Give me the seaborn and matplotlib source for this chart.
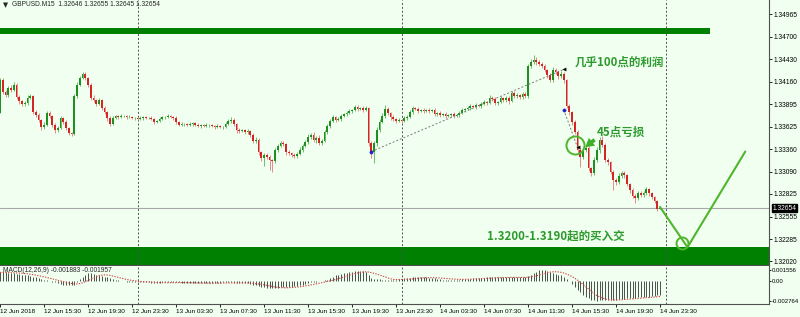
import numpy as np
import pandas as pd
import matplotlib
matplotlib.use("Agg")
import matplotlib.pyplot as plt
import matplotlib.transforms as mtransforms
from matplotlib.patches import Rectangle
import seaborn as sns

# ---------------- data ----------------
header_symbol = "GBPUSD.M15  1.32646 1.32655 1.32645 1.32654"
macd_header = "MACD(12,26,9) -0.001883 -0.001957"
first_bar_time = "2018-06-12 11:30"
first_open = 1.33790

closes = [
    1.34183, 1.34040, 1.34005, 1.34088, 1.34064, 1.34124, 1.33981, 1.33933, 1.33897, 1.33909,
    1.33969, 1.33993, 1.33802, 1.33766, 1.33707, 1.33623, 1.33647, 1.33790, 1.33754, 1.33647,
    1.33587, 1.33611, 1.33730, 1.33683, 1.33611, 1.33552, 1.33540, 1.33993, 1.34124, 1.34207,
    1.34255, 1.34207, 1.34124, 1.33969, 1.33945, 1.33897, 1.33945, 1.33850, 1.33802, 1.33730,
    1.33659, 1.33730, 1.33754, 1.33742, 1.33754, 1.33754, 1.33742, 1.33742, 1.33730, 1.33730,
    1.33719, 1.33730, 1.33742, 1.33730, 1.33730, 1.33719, 1.33683, 1.33695, 1.33719, 1.33742,
    1.33742, 1.33754, 1.33742, 1.33730, 1.33683, 1.33647, 1.33659, 1.33659, 1.33647, 1.33659,
    1.33671, 1.33647, 1.33635, 1.33647, 1.33635, 1.33647, 1.33647, 1.33635, 1.33623, 1.33635,
    1.33623, 1.33623, 1.33659, 1.33695, 1.33707, 1.33659, 1.33587, 1.33576, 1.33587, 1.33564,
    1.33576, 1.33528, 1.33456, 1.33468, 1.33325, 1.33254, 1.33289, 1.33266, 1.33230, 1.33218,
    1.33349, 1.33397, 1.33432, 1.33421, 1.33325, 1.33313, 1.33289, 1.33278, 1.33301, 1.33349,
    1.33397, 1.33444, 1.33504, 1.33528, 1.33468, 1.33492, 1.33432, 1.33456, 1.33564, 1.33635,
    1.33695, 1.33742, 1.33707, 1.33719, 1.33754, 1.33778, 1.33790, 1.33814, 1.33826, 1.33862,
    1.33838, 1.33850, 1.33826, 1.33850, 1.33432, 1.33325, 1.33432, 1.33587, 1.33683, 1.33754,
    1.33838, 1.33790, 1.33742, 1.33719, 1.33695, 1.33707, 1.33695, 1.33730, 1.33742, 1.33802,
    1.33850, 1.33838, 1.33814, 1.33826, 1.33814, 1.33826, 1.33814, 1.33826, 1.33778, 1.33790,
    1.33766, 1.33778, 1.33754, 1.33766, 1.33778, 1.33754, 1.33766, 1.33790, 1.33826, 1.33838,
    1.33850, 1.33874, 1.33862, 1.33885, 1.33874, 1.33897, 1.33921, 1.33909, 1.33969, 1.33957,
    1.33909, 1.33921, 1.33969, 1.33945, 1.33969, 1.33933, 1.34028, 1.33993, 1.34005, 1.33981,
    1.34017, 1.33993, 1.34350, 1.34398, 1.34422, 1.34398, 1.34374, 1.34350, 1.34303, 1.34243,
    1.34183, 1.34303, 1.34279, 1.34231, 1.34255, 1.34183, 1.33874, 1.33802, 1.33683, 1.33564,
    1.33349, 1.33266, 1.33349, 1.33373, 1.33134, 1.33075, 1.33230, 1.33349, 1.33468, 1.33409,
    1.33230, 1.33206, 1.33087, 1.32991, 1.32968, 1.33039, 1.33075, 1.33051, 1.32944, 1.32872,
    1.32801, 1.32777, 1.32836, 1.32813, 1.32836, 1.32884, 1.32836, 1.32789, 1.32741, 1.32646,
    1.32654,
]

upper_wick_pips = [
    2, 3, 2, 2, 3, 4, 2, 2, 1, 2,
    3, 2, 1, 2, 2, 1, 3, 2, 2, 1,
    2, 2, 3, 1, 2, 1, 1, 2, 3, 2,
    2, 2, 1, 2, 3, 1, 2, 1, 2, 1,
    2, 2, 1, 1, 2, 1, 1, 2, 1, 1,
    1, 2, 1, 1, 1, 2, 1, 1, 2, 1,
    1, 2, 1, 1, 2, 1, 2, 1, 1, 2,
    1, 1, 2, 1, 1, 2, 1, 1, 1, 2,
    1, 1, 2, 2, 3, 2, 1, 2, 1, 1,
    2, 1, 2, 3, 2, 1, 3, 2, 2, 1,
    2, 2, 3, 2, 1, 2, 1, 2, 2, 3,
    2, 2, 3, 2, 3, 2, 3, 2, 2, 2,
    2, 3, 1, 2, 2, 1, 2, 2, 1, 2,
    2, 1, 2, 2, 1, 2, 3, 4, 3, 3,
    5, 2, 1, 2, 1, 2, 1, 2, 2, 2,
    2, 1, 2, 1, 2, 1, 2, 1, 2, 1,
    2, 1, 2, 1, 1, 2, 1, 2, 2, 1,
    2, 2, 1, 2, 1, 2, 2, 1, 3, 2,
    2, 1, 2, 1, 2, 2, 3, 2, 2, 1,
    2, 2, 3, 4, 6, 3, 2, 2, 2, 1,
    2, 3, 2, 2, 3, 2, 1, 2, 1, 2,
    2, 2, 3, 2, 2, 1, 3, 3, 4, 5,
    2, 2, 1, 2, 2, 3, 2, 2, 1, 1,
    2, 2, 3, 2, 2, 2, 1, 1, 1, 1,
    1,
]

lower_wick_pips = [
    0, 2, 3, 2, 2, 1, 2, 3, 2, 2,
    2, 1, 2, 2, 3, 3, 2, 1, 2, 2,
    3, 2, 1, 2, 2, 3, 2, 1, 2, 1,
    1, 2, 2, 3, 2, 2, 1, 2, 2, 3,
    2, 1, 1, 2, 1, 1, 2, 1, 1, 2,
    1, 1, 2, 1, 1, 1, 2, 1, 1, 1,
    2, 1, 1, 2, 2, 1, 1, 2, 1, 1,
    2, 1, 1, 2, 1, 1, 2, 1, 2, 1,
    1, 2, 1, 1, 2, 2, 3, 2, 1, 2,
    2, 3, 2, 2, 3, 4, 10, 3, 12, 13,
    2, 2, 1, 2, 3, 2, 2, 3, 2, 1,
    2, 1, 2, 2, 2, 3, 2, 2, 1, 2,
    2, 1, 2, 1, 2, 1, 2, 1, 2, 1,
    2, 1, 2, 1, 3, 7, 13, 3, 2, 1,
    2, 2, 3, 2, 2, 1, 2, 1, 2, 1,
    2, 1, 2, 1, 2, 1, 2, 1, 2, 2,
    2, 1, 2, 1, 2, 2, 1, 2, 1, 2,
    1, 2, 1, 2, 1, 2, 1, 2, 1, 2,
    2, 2, 1, 2, 2, 3, 1, 2, 2, 2,
    2, 2, 2, 2, 2, 3, 2, 2, 2, 3,
    2, 2, 2, 3, 2, 3, 3, 3, 4, 3,
    4, 12, 3, 2, 4, 4, 3, 2, 3, 2,
    3, 4, 3, 12, 4, 3, 2, 3, 3, 4,
    3, 6, 3, 2, 2, 2, 3, 3, 2, 2,
    0,
]

# MACD main values, in units of 0.0001
macd_main = [
    12, 12, 12, 11, 11, 11,
    10, 10, 9, 9, 8, 7,
    6, 5, 4, 3, 2, 1, 0,
    -1, -2, -3, -4, -5, -5, -6, -6, -5, -1,
    3, 6, 9, 11, 11, 10, 9, 8,
    7, 6, 5, 4, 3,
    2, 1, 0, 0, -1, -1, -1, -1, -1, -2,
    -2, -2, -2, -3, -3, -3, -3, -2, -2, -2,
    -2, -2, -2, -2, -3, -3, -3, -3, -3, -3,
    -3, -3, -3, -3, -3, -3, -3, -3, -3, -2,
    -2, -2, -2, -3, -3, -3, -3, -3, -3,
    -4, -5, -6, -7,
    -8, -9, -10, -10, -10, -10, -10, -9, -9, -9, -8, -8, -7, -7, -6, -5,
    -4, -3, -2, -1, -1, 0, 0, 1,
    2, 4, 6, 8, 9, 10, 11, 11, 12,
    13, 14, 14, 14, 14, 13,
    8, 4, 3, 3,
    3, 2, 2, 2, 1, 1, 1,
    3, 3, 4, 4, 4, 5, 5, 5, 5, 5, 5, 4, 4, 4, 3, 3,
    2, 2, 2, 2, 2, 2, 2, 3, 3, 3,
    3, 4, 4, 4, 4, 4, 5, 5, 5, 5, 5, 5, 5, 5, 5, 5, 5, 5, 5, 5, 5,
    7, 9, 11, 13, 15, 15.5, 15, 14,
    12, 11, 10, 9, 8, 6, 3, 0,
    -4, -8, -12, -16, -19, -22,
    -24, -26, -27, -27.6, -27,
    -27, -27, -26, -26, -26, -26, -25, -25, -25, -24, -24,
    -24, -24, -23, -23, -23, -22, -22, -21, -21, -20, -19,
]

price_ticks = [1.34965, 1.34700, 1.34430, 1.34160, 1.33895, 1.33625,
               1.33360, 1.33090, 1.32825, 1.32555, 1.32285, 1.32020]
current_price = 1.32654
macd_ticks = [0.001556, 0.0, -0.002764]
macd_tick_labels = ["0.001556", "0.00", "-0.002764"]

time_tick_labels = ["12 Jun 2018", "12 Jun 15:30", "12 Jun 19:30", "12 Jun 23:30",
                    "13 Jun 03:30", "13 Jun 07:30", "13 Jun 11:30", "13 Jun 15:30",
                    "13 Jun 19:30", "13 Jun 23:30", "14 Jun 03:30", "14 Jun 07:30",
                    "14 Jun 11:30", "14 Jun 15:30", "14 Jun 19:30", "14 Jun 23:30"]
time_tick_times = ["2018-06-12 11:30", "2018-06-12 15:30", "2018-06-12 19:30", "2018-06-12 23:30",
                   "2018-06-13 03:30", "2018-06-13 07:30", "2018-06-13 11:30", "2018-06-13 15:30",
                   "2018-06-13 19:30", "2018-06-13 23:30", "2018-06-14 03:30", "2018-06-14 07:30",
                   "2018-06-14 11:30", "2018-06-14 15:30", "2018-06-14 19:30", "2018-06-14 23:30"]
day_separators = ["2018-06-13 00:00", "2018-06-14 00:00", "2018-06-15 00:00"]

resistance_zone = (1.34732, 1.34803)
resistance_end = "2018-06-15 04:00"
support_zone = (1.31900, 1.32193)

trade_entry_times = ["2018-06-13 21:15", "2018-06-14 14:45"]
trade_entry_prices = [1.3333, 1.3383]
trade_exit_times = ["2018-06-14 14:45", "2018-06-14 16:00"]
trade_exit_prices = [1.3431, 1.3338]

path_times = ["2018-06-14 23:30", "2018-06-15 02:00", "2018-06-15 07:15"]
path_prices = [1.3267, 1.3219, 1.3333]

circle_times = ["2018-06-14 15:45", "2018-06-15 01:30"]
circle_prices = [1.3341, 1.3224]
circle_sizes = [13, 8.6]

note_texts = ["几乎100点的利润", "45点亏损", "1.3200-1.3190起的买入交"]
note_times = ["2018-06-14 15:45", "2018-06-14 17:45", "2018-06-14 07:45"]
note_prices = [1.34398, 1.33558, 1.32324]

arrow_tail = ("2018-06-14 17:45", 1.33492)
arrow_head = ("2018-06-14 16:30", 1.33361)

# ---------------- helpers ----------------
t0 = pd.Timestamp(first_bar_time)
step = pd.Timedelta("15min")


def bar_index(t):
    return (pd.Timestamp(t) - t0) / step


n = len(closes)
idx = np.arange(n)
close_arr = np.array(closes)
open_arr = np.concatenate([[first_open], close_arr[:-1]])
open_arr[-1] = 1.32646
high_arr = np.maximum(open_arr, close_arr) + np.array(upper_wick_pips) * 1e-4
low_arr = np.minimum(open_arr, close_arr) - np.array(lower_wick_pips) * 1e-4
bull = close_arr >= open_arr

candles = pd.DataFrame({"idx": idx, "open": open_arr, "close": close_arr,
                        "high": high_arr, "low": low_arr, "bull": bull})
macd_df = pd.DataFrame({"idx": idx, "macd": np.array(macd_main) * 1e-4})
macd_df["signal"] = macd_df["macd"].rolling(9, min_periods=1).mean()

# ---------------- style ----------------
sns.set_theme(style="white")
plt.rcParams["font.family"] = ["Noto Sans CJK SC", "DejaVu Sans"]
BG = "#F0FFF0"
GREEN_BODY = "#1f8f1f"
RED_BODY = "#d42424"
GREEN_WICK = "#6cbf6c"
RED_WICK = "#e68a8a"
ZONE = "#008000"
NOTE = "#2e9a2e"
LINE = "#4fb52c"
SMALL_FONT = "Liberation Sans"
SMALL = 4.8

fig = plt.figure(figsize=(8.0, 3.17), dpi=100, facecolor=BG)
W, H = 800.0, 317.0
ax = fig.add_axes([0, 1 - 265 / H, 769 / W, 265 / H], facecolor=BG)
axm = fig.add_axes([0, 1 - 304 / H, 769 / W, 38 / H], facecolor=BG)

xmax = 769 / 2.75
for a in (ax, axm):
    a.set_xlim(0, xmax)
ax.set_ylim(1.31978, 1.35137)
axm.set_ylim(-0.00322, 0.0021)

# zones
ax.add_patch(Rectangle((-2, resistance_zone[0]), bar_index(resistance_end) + 2,
                       resistance_zone[1] - resistance_zone[0], color=ZONE, lw=0, zorder=1))
ax.axhspan(support_zone[0], support_zone[1], color=ZONE, lw=0, zorder=1)

# current price line
ax.axhline(current_price, color="#a8a8a8", lw=0.8, zorder=1.5)

# day separators
for t in day_separators:
    for a in (ax, axm):
        a.axvline(bar_index(t), color="#505050", lw=0.7, ls=(0, (2, 2)), zorder=1.6)

# candles: wicks then bodies
wick_colors = np.where(candles["bull"], GREEN_WICK, RED_WICK)
ax.vlines(candles["idx"], candles["low"], candles["high"], colors=wick_colors, lw=0.7, zorder=2)
body_h = (candles["close"] - candles["open"]).to_numpy()
body_h = np.where(np.abs(body_h) < 4e-5, np.where(body_h >= 0, 4e-5, -4e-5), body_h)
body_colors = np.where(candles["bull"], GREEN_BODY, RED_BODY)
ax.bar(candles["idx"], body_h, bottom=candles["open"], width=0.72,
       color=body_colors, lw=0, zorder=3)

# trade history dotted lines & markers
for et, ep, xt, xp in zip(trade_entry_times, trade_entry_prices, trade_exit_times, trade_exit_prices):
    ax.plot([bar_index(et), bar_index(xt)], [ep, xp], color="#7a7a7a", lw=0.7,
            ls=(0, (2, 2)), zorder=3.5)
entry_df = pd.DataFrame({"x": [bar_index(t) for t in trade_entry_times], "y": trade_entry_prices})
exit_df = pd.DataFrame({"x": [bar_index(t) for t in trade_exit_times], "y": trade_exit_prices})
sns.scatterplot(data=entry_df, x="x", y="y", ax=ax, marker="o", s=6, color="#2020d0",
                edgecolor="#2020d0", zorder=4, legend=False)
sns.scatterplot(data=exit_df, x="x", y="y", ax=ax, marker="<", s=6, color="#000000",
                edgecolor="#000000", zorder=4, legend=False)

# projected path
path_df = pd.DataFrame({"x": [bar_index(t) for t in path_times], "y": path_prices})
sns.lineplot(data=path_df, x="x", y="y", ax=ax, color=LINE, lw=1.5, sort=False,
             estimator=None, zorder=5)

# circles
for t, p, s in zip(circle_times, circle_prices, circle_sizes):
    ax.plot([bar_index(t)], [p], marker="o", ms=s, mfc="none", mec=LINE, mew=1.4, zorder=5)

# arrow
ax.annotate("", xy=(bar_index(arrow_head[0]), arrow_head[1]),
            xytext=(bar_index(arrow_tail[0]), arrow_tail[1]),
            arrowprops=dict(arrowstyle="simple,head_length=0.7,head_width=0.8,tail_width=0.3",
                            color="#3fae2a", lw=0, mutation_scale=9), zorder=6)

# notes
for txt, t, p in zip(note_texts, note_times, note_prices):
    ax.text(bar_index(t), p, txt, color=NOTE, fontsize=8.3, fontweight="bold",
            ha="left", va="center", zorder=7)

# axes styling - main
ax.set_xticks([])
ax.yaxis.tick_right()
ax.set_yticks(price_ticks)
ax.set_yticklabels([f"{v:.5f}" for v in price_ticks], family=SMALL_FONT)
ax.tick_params(axis="y", labelsize=SMALL, length=2.2, width=0.6, pad=1.0, colors="#000000",
               direction="out")
for s in ("left", "top"):
    ax.spines[s].set_visible(False)
for s in ("right", "bottom"):
    ax.spines[s].set_color("#505050")
    ax.spines[s].set_linewidth(0.8)
ax.set_xlabel("")
ax.set_ylabel("")

trans = mtransforms.blended_transform_factory(ax.transAxes, ax.transData)
ax.text(1.004, current_price, f"{current_price:.5f}", transform=trans, fontsize=SMALL,
        family=SMALL_FONT, color="white", ha="left", va="center", zorder=10, clip_on=False,
        bbox=dict(boxstyle="square,pad=0.08", fc="black", ec="black"))

# MACD panel
axm.vlines(macd_df["idx"], 0, macd_df["macd"], colors="#202020", lw=0.55, zorder=2)
sns.lineplot(data=macd_df, x="idx", y="signal", ax=axm, color="#d04848", lw=0.8,
             linestyle=(0, (1.2, 1.2)), zorder=3)
axm.set_xlabel("")
axm.set_ylabel("")
axm.yaxis.tick_right()
axm.set_yticks(macd_ticks)
axm.set_yticklabels(macd_tick_labels, family=SMALL_FONT)
axm.tick_params(axis="y", labelsize=4.3, length=1.5, width=0.6, pad=0.6, colors="#000000")
axm.set_xticks([bar_index(t) for t in time_tick_times])
axm.set_xticklabels(time_tick_labels, family=SMALL_FONT, ha="left")
axm.tick_params(axis="x", labelsize=4.6, length=2.2, width=0.6, pad=1.5, colors="#000000",
                direction="out", bottom=True)
for s in ("left", "top"):
    axm.spines[s].set_visible(False)
for s in ("right", "bottom"):
    axm.spines[s].set_color("#505050")
    axm.spines[s].set_linewidth(0.8)

# headers
fig.text(3 / W, 1 - 5 / H, "\u25bc", fontsize=SMALL, family="DejaVu Sans", va="center", ha="left")
fig.text(12 / W, 1 - 5 / H, header_symbol, fontsize=SMALL, family=SMALL_FONT,
         va="center", ha="left")
fig.text(3 / W, 1 - 271 / H, macd_header, fontsize=SMALL, family=SMALL_FONT,
         va="center", ha="left")

fig.savefig("out.png", dpi=100, facecolor=BG)
